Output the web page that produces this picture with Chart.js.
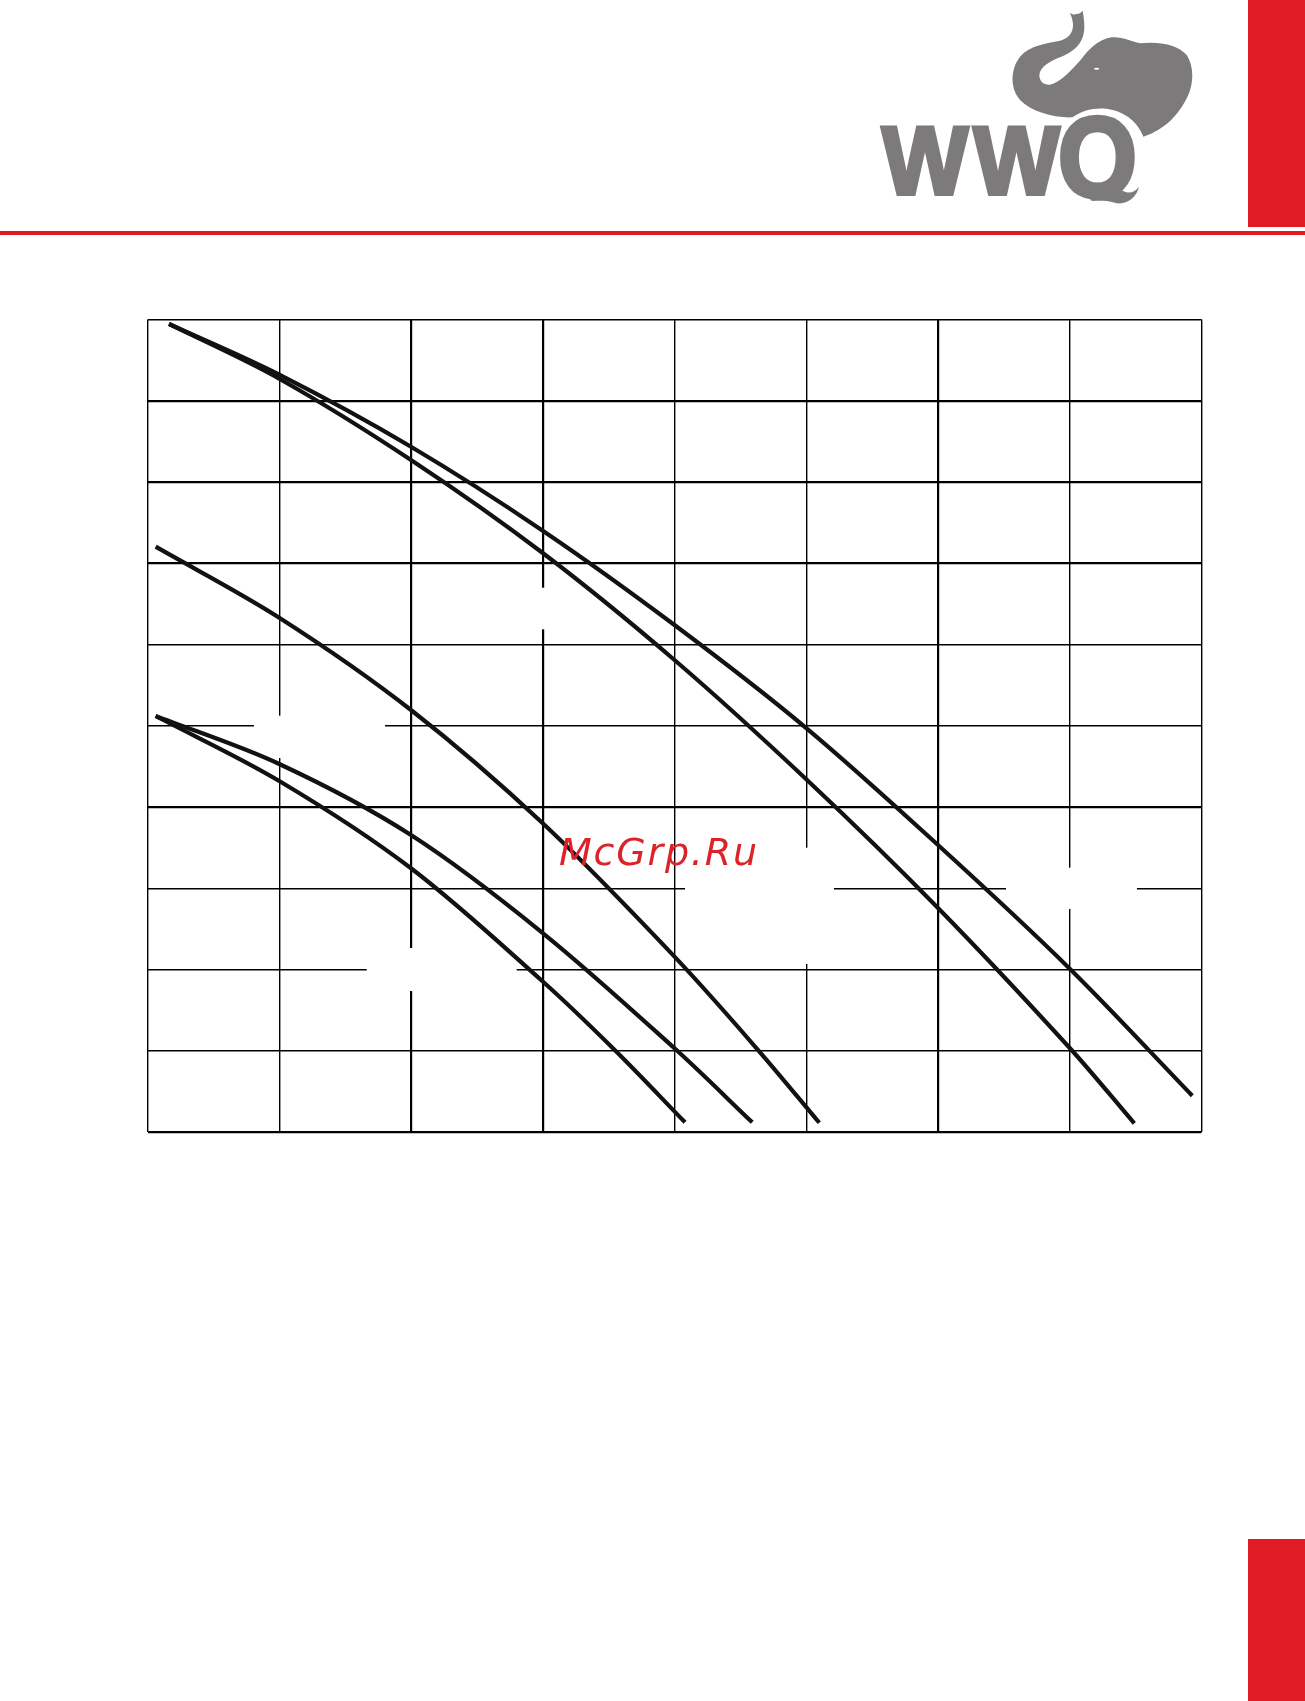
<!DOCTYPE html>
<html>
<head>
<meta charset="utf-8">
<title>WWQ</title>
<script src="https://cdn.jsdelivr.net/npm/chart.js@4"></script>
<style>
html, body { margin: 0; padding: 0; background: #fff; }
body { position: relative; width: 1305px; height: 1701px; overflow: hidden; }
#myChart { position: absolute; left: 0; top: 0; }
.red { position: absolute; background: #e01b24; }
#logo { position: absolute; left: 840px; top: 0; }
</style>
</head>
<body>
<div class="red" style="left:1248px;top:0;width:57px;height:227px"></div>
<div class="red" style="left:0;top:231px;width:1305px;height:4px"></div>
<div class="red" style="left:1248px;top:1539px;width:57px;height:162px"></div>

<svg id="logo" width="465" height="250" viewBox="0 0 1395 750">
  <defs><clipPath id="qclip"><rect x="600" y="300" width="400" height="302"/></clipPath></defs>
  <path fill="#7c7a7b" d="M690 38 C696 44 704 44 710 42 C716 42 724 38 728 32 C733 60 736 90 728 112 C718 140 695 158 660 172 C630 184 600 200 598 225 C598 245 612 256 630 254 C660 246 690 215 720 182 C745 150 770 120 815 112 C850 110 875 125 900 130 C950 124 1010 130 1040 165 C1060 195 1062 240 1047 280 C1022 340 975 390 910 410 C895 370 860 335 800 326 C760 322 725 332 697 352 C640 354 575 335 540 300 C510 265 510 210 540 170 C570 135 620 130 660 122 C695 112 710 85 690 38 Z"/>
  <ellipse cx="770" cy="206" rx="8" ry="3" fill="#fff"/>
  <text transform="translate(126,582) scale(.95,1)" font-family="Liberation Sans" font-weight="700" font-size="288" fill="#7c7a7b" stroke="#7c7a7b" stroke-width="12"><tspan x="0">W</tspan><tspan x="289">W</tspan></text>
  <g clip-path="url(#qclip)">
    <text transform="translate(654,590) scale(.89,1)" font-family="Liberation Sans" font-weight="700" font-size="342" fill="#7c7a7b" stroke="#7c7a7b" stroke-width="14">Q</text>
  </g>
  <path fill="#7c7a7b" d="M720 580 C760 600 790 598 830 610 C865 612 890 590 897 560 C885 578 865 582 848 572 L800 560 Z"/>
</svg>

<canvas id="myChart" width="1305" height="1701"></canvas>

<script>
const x_ticks = [0, 1, 2, 3, 4, 5, 6, 7, 8];
const y_ticks = [0, 1, 2, 3, 4, 5, 6, 7, 8, 9, 10];

// upper curve of the top pair
const curve_a_x = [0.163, 1, 2, 3, 4, 5, 6, 7, 7.93];
const curve_a_y = [9.945, 9.321, 8.434, 7.401, 6.24, 4.972, 3.532, 2.01, 0.447];
// lower curve of the top pair
const curve_b_x = [0.163, 1, 2, 3, 4, 5, 6, 7, 7.49];
const curve_b_y = [9.945, 9.271, 8.271, 7.126, 5.809, 4.341, 2.757, 1.034, 0.107];
// single middle curve
const curve_c_x = [0.062, 1, 2, 3, 4, 4.636, 5.099];
const curve_c_y = [7.204, 6.33, 5.194, 3.799, 2.158, 1.006, 0.114];
// upper curve of the bottom pair
const curve_d_x = [0.062, 1, 2, 3, 4, 4.59];
const curve_d_y = [5.12, 4.529, 3.655, 2.449, 1.03, 0.119];
// lower curve of the bottom pair
const curve_e_x = [0.062, 1, 2, 3, 3.548, 4.08];
const curve_e_y = [5.12, 4.32, 3.246, 1.852, 1.006, 0.119];

// grid lines that are heavier in the scan
const heavy_x = [2, 3, 6];
const heavy_y = [0, 4, 7, 8, 9];

// holes in the grid: [line, from, to]
const gaps_on_y = [[5, 0.808, 1.803], [2, 1.664, 2.802], [3, 4.08, 5.21], [3, 6.516, 7.51]];
const gaps_on_x = [[1, 4.603, 5.124], [2, 1.735, 2.265], [3, 6.187, 6.699], [5, 2.068, 3.499], [7, 2.745, 3.253]];

function toPoints(xs, ys) {
    let points = [];
    for (let i = 0; i < xs.length; i += 1) {
        points.push({ x: xs[i], y: ys[i] });
    }
    return points;
}

function makeCurve(xs, ys) {
    return {
        data: toPoints(xs, ys),
        borderColor: '#121212',
        borderWidth: 4.2,
        borderCapStyle: 'butt',
        pointRadius: 0,
        tension: 0.33,
        showLine: true
    };
}

const gridGaps = {
    id: 'gridGaps',
    beforeDatasetsDraw(chart) {
        const ctx = chart.ctx;
        const sx = chart.scales.x;
        const sy = chart.scales.y;
        ctx.save();
        ctx.fillStyle = '#fff';
        gaps_on_y.forEach(function (g) {
            const left = sx.getPixelForValue(g[1]);
            ctx.fillRect(left, sy.getPixelForValue(g[0]) - 3, sx.getPixelForValue(g[2]) - left, 6);
        });
        gaps_on_x.forEach(function (g) {
            const top = sy.getPixelForValue(g[2]);
            ctx.fillRect(sx.getPixelForValue(g[0]) - 3, top, 6, sy.getPixelForValue(g[1]) - top);
        });
        ctx.restore();
    }
};

const watermark = {
    id: 'watermark',
    afterDraw(chart) {
        const ctx = chart.ctx;
        ctx.save();
        ctx.font = 'italic 38px "DejaVu Sans"';
        ctx.letterSpacing = '1.8px';
        ctx.fillStyle = '#dc2329';
        ctx.textBaseline = 'alphabetic';
        ctx.fillText('McGrp.Ru', 559, 865);
        ctx.restore();
    }
};

const ctx = document.getElementById('myChart').getContext('2d');
const myChart = new Chart(ctx, {
    type: 'scatter',
    data: {
        datasets: [
            makeCurve(curve_a_x, curve_a_y),
            makeCurve(curve_b_x, curve_b_y),
            makeCurve(curve_c_x, curve_c_y),
            makeCurve(curve_d_x, curve_d_y),
            makeCurve(curve_e_x, curve_e_y)
        ]
    },
    plugins: [gridGaps, watermark],
    options: {
        responsive: false,
        animation: false,
        layout: { padding: { left: 147.5, top: 319.5, right: 103.5, bottom: 569 } },
        plugins: { legend: { display: false }, tooltip: { enabled: false } },
        scales: {
            x: {
                type: 'linear',
                min: 0,
                max: 8,
                afterBuildTicks(axis) { axis.ticks = x_ticks.map(function (v) { return { value: v }; }); },
                ticks: { display: false },
                border: { display: false },
                grid: {
                    color: '#000',
                    drawTicks: false,
                    lineWidth(c) { return heavy_x.includes(c.tick.value) ? 2.2 : 1.4; }
                }
            },
            y: {
                type: 'linear',
                min: 0,
                max: 10,
                afterBuildTicks(axis) { axis.ticks = y_ticks.map(function (v) { return { value: v }; }); },
                ticks: { display: false },
                border: { display: false },
                grid: {
                    color: '#000',
                    drawTicks: false,
                    lineWidth(c) { return heavy_y.includes(c.tick.value) ? 2.2 : 1.4; }
                }
            }
        }
    }
});
</script>
</body>
</html>
